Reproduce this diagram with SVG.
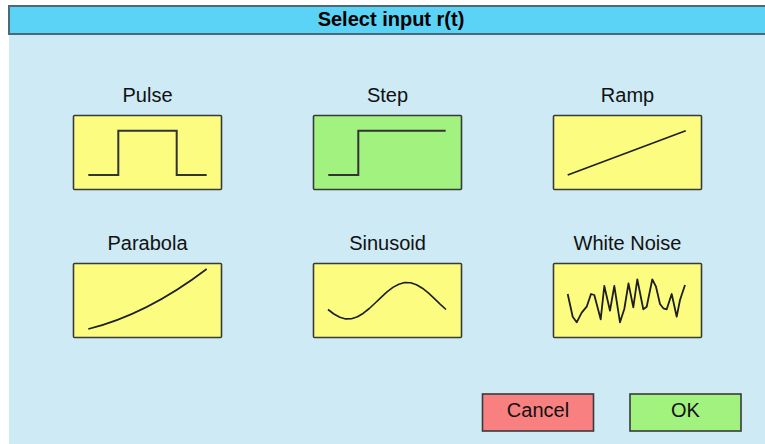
<svg xmlns="http://www.w3.org/2000/svg" width="765" height="444" viewBox="0 0 765 444">
<style>
.lbl{font-family:"Liberation Sans",Arial,sans-serif;font-size:20px;fill:#111;text-anchor:middle}
.box{stroke:#3a3a3a;stroke-width:1.6}
.y{fill:#fcfc80}
.g{fill:#a2f280}
.sig{fill:none;stroke:#333;stroke-width:2;stroke-linejoin:miter}
.thin{fill:none;stroke:#1e1e1e;stroke-width:1.6;stroke-linejoin:round}
</style>
<rect x="0" y="0" width="765" height="444" fill="#ffffff"/>
<rect x="9" y="6" width="756" height="438" fill="#cdeaf5"/>
<g id="header">
<rect x="9" y="6" width="758" height="28" fill="#5ad3f6" stroke="#4a6a78" stroke-width="2"/>
<text x="391" y="26" style="font-family:'Liberation Sans',Arial,sans-serif;font-size:20px;font-weight:bold;fill:#000;text-anchor:middle">Select input r(t)</text>
</g>
<g id="pulse">
<text class="lbl" x="147.5" y="102">Pulse</text>
<rect class="box y" x="73.5" y="115.5" width="148" height="74" rx="1"/>
<polyline class="sig" points="88.3,175 118.3,175 118.3,130.7 176.7,130.7 176.7,175 206.7,175"/>
</g>
<g id="step">
<text class="lbl" x="387.5" y="102">Step</text>
<rect class="box g" x="313.5" y="115.5" width="148" height="74" rx="1"/>
<polyline class="sig" points="328.3,175 358.3,175 358.3,130.7 445.7,130.7"/>
</g>
<g id="ramp">
<text class="lbl" x="627.5" y="102">Ramp</text>
<rect class="box y" x="553.5" y="115.5" width="148" height="74" rx="1"/>
<line class="thin" x1="567.7" y1="175" x2="685.7" y2="130.7"/>
</g>
<g id="parabola">
<text class="lbl" x="147.5" y="250">Parabola</text>
<rect class="box y" x="73.5" y="263.5" width="148" height="74" rx="1"/>
<path class="thin" d="M88.3,329 Q147,314.4 206.7,269"/>
</g>
<g id="sinusoid">
<text class="lbl" x="387.5" y="250">Sinusoid</text>
<rect class="box y" x="313.5" y="263.5" width="148" height="74" rx="1"/>
<polyline class="thin" points="328,309.5 333.9,314 339.8,317.3 345.7,318.9 351.6,318.7 357.5,316.7 363.4,313.2 369.3,308.5 375.2,303 381.1,297.3 387,291.9 392.9,287.4 398.8,284.2 404.7,282.6 410.6,282.7 416.5,284.7 422.4,288.2 428.3,292.9 434.2,298.4 440.1,304.1 446,309.5"/>
</g>
<g id="white-noise">
<text class="lbl" x="627.5" y="250">White Noise</text>
<rect class="box y" x="553.5" y="263.5" width="148" height="74" rx="1"/>
<polyline class="thin" style="stroke-width:1.8" points="567.7,294 572.7,316.7 576.7,322.3 581.7,312.7 586.7,306.7 591,294 594.3,295 600.7,319.3 604.3,286 610,310.7 614.3,286 620,322.3 624.3,309 628.5,283.5 633.3,307.3 637.3,279.3 643.3,309.3 646.7,306.7 652.3,279.3 656,286.7 660,304 663.3,308.3 666.7,309.3 671.7,294 676.7,316.7 680,300 685,285"/>
</g>
<g id="cancel">
<rect class="box" x="482.5" y="394" width="111" height="37" fill="#f88080"/>
<text class="lbl" x="538" y="417">Cancel</text>
</g>
<g id="ok">
<rect class="box" x="630" y="394" width="111" height="37" fill="#a2f280"/>
<text class="lbl" x="685.5" y="417">OK</text>
</g>
<g id="connectors"></g>
</svg>
